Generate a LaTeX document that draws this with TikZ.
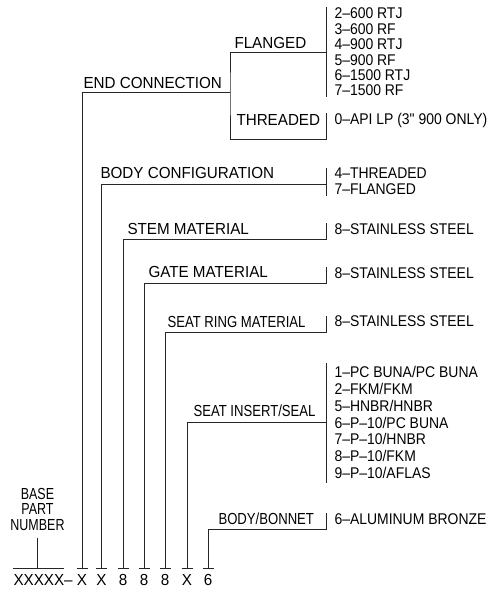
\documentclass[tikz,border=0pt]{standalone}
\usepackage{fontspec}
\setmainfont{Liberation Sans}
\newfontfamily\headfont[FakeStretch=0.95]{Liberation Sans}
\newfontfamily\narrowfont[FakeStretch=0.82]{Liberation Sans}
\newfontfamily\basefont[FakeStretch=0.78]{Liberation Sans}
\newfontfamily\itemfont[FakeStretch=0.9]{Liberation Sans}

\begin{document}
\begin{tikzpicture}[x=1pt,y=-1pt,line width=1pt,draw=black!85,
  every node/.style={inner sep=0pt},
  head/.style={font=\headfont\fontsize{16}{16}\selectfont,anchor=base west},
  narrowhead/.style={font=\narrowfont\fontsize{16}{16}\selectfont,anchor=base west},
  opts/.style={font=\itemfont\fontsize{15.5}{15.4}\selectfont,align=left,anchor=north west},
  digit/.style={font=\headfont\fontsize{16}{16}\selectfont,anchor=base}]
\useasboundingbox (0,0) rectangle (493,590);
% part number
\node[digit,anchor=base west] (pn) at (13,585) {XXXXX–};
\node[digit] (c1) at (82,585) {X};
\node[digit] (c2) at (101.5,585) {X};
\node[digit] (c3) at (123,585) {8};
\node[digit] (c4) at (144,585) {8};
\node[digit] (c5) at (165,585) {8};
\node[digit] (c6) at (187,585) {X};
\node[digit] (c7) at (208,585) {6};
\node[font=\basefont\fontsize{16}{15.5}\selectfont,align=center,anchor=north] (bpn) at (37.5,487.5) {BASE\\PART\\NUMBER};
% headings
\node[head] (endcon) at (83,88.5) {END CONNECTION};
\node[head] (flgd) at (234,48.5) {FLANGED};
\node[head] (thrd) at (236,125.5) {THREADED};
\node[head] (bodycfg) at (100,178.5) {BODY CONFIGURATION};
\node[head] (stemmat) at (127,234) {STEM MATERIAL};
\node[head] (gatemat) at (148,277.5) {GATE MATERIAL};
\node[narrowhead] (ringmat) at (167,327) {SEAT RING MATERIAL};
\node[narrowhead] (sealmat) at (193,416) {SEAT INSERT/SEAL};
\node[narrowhead] (bonnetmat) at (218,524) {BODY/BONNET};
% option lists
\node[opts] (flgopt) at (334,7.5) {2–600 RTJ\\3–600 RF\\4–900 RTJ\\5–900 RF\\6–1500 RTJ\\7–1500 RF};
\node[opts] (thropt) at (334,113) {0–API LP (3" 900 ONLY)};
\node[opts,font=\itemfont\fontsize{15.5}{15.5}\selectfont] (cfgopt) at (334,167.5) {4–THREADED\\7–FLANGED};
\node[opts] (stemopt) at (334,223) {8–STAINLESS STEEL};
\node[opts] (gateopt) at (334,267) {8–STAINLESS STEEL};
\node[opts] (ringopt) at (334,315.5) {8–STAINLESS STEEL};
\node[opts,font=\itemfont\fontsize{15.5}{16.8}\selectfont] (sealopt) at (334,366) {1–PC BUNA/PC BUNA\\2–FKM/FKM\\5–HNBR/HNBR\\6–P–10/PC BUNA\\7–P–10/HNBR\\8–P–10/FKM\\9–P–10/AFLAS};
\node[opts] (bonnetopt) at (334,513) {6–ALUMINUM BRONZE};
% junctions at the bars
\coordinate (ecj) at (230,92);
\coordinate (flgj) at (326.5,52);
\coordinate (thrj) at (326.5,139);
\coordinate (cfgj) at (326.5,184);
\coordinate (stemj) at (326.5,239);
\coordinate (gatej) at (326.5,283);
\coordinate (ringj) at (326.5,332);
\coordinate (sealj) at (326.5,422);
\coordinate (bonnetj) at (326.5,529);
% leaders
\coordinate (ul) at ([yshift=5pt]pn.north west);
\draw (ul) -- ++(50.5,0);
\draw ([yshift=-7pt]bpn.south) -- (bpn.south |- ul);
\foreach \c in {c1,c2,c3,c4,c5,c6,c7}
  \draw ([xshift=-5.5pt,yshift=5pt]\c.north) -- ([xshift=5.5pt,yshift=5pt]\c.north);
\draw ([yshift=5pt]c1.north) |- (ecj);
\draw (flgj) -| (ecj) |- (thrj);
\foreach \c/\j in {c2/cfgj,c3/stemj,c4/gatej,c5/ringj,c6/sealj,c7/bonnetj}
  \draw ([yshift=5pt]\c.north) |- (\j);
% bars
\draw ([yshift=1pt]flgj |- flgopt.north) -- ([yshift=-1pt]flgj |- flgopt.south);
\foreach \o/\j in {thropt/thrj,stemopt/stemj,gateopt/gatej,ringopt/ringj,bonnetopt/bonnetj}
  \draw (\j |- \o.north) -- (\j);
\draw (cfgj |- cfgopt.north) -- ([yshift=-1pt]cfgj |- cfgopt.south);
\draw ([yshift=3pt]sealj |- sealopt.north) -- ([yshift=-4pt]sealj |- sealopt.south);
\end{tikzpicture}
\end{document}
